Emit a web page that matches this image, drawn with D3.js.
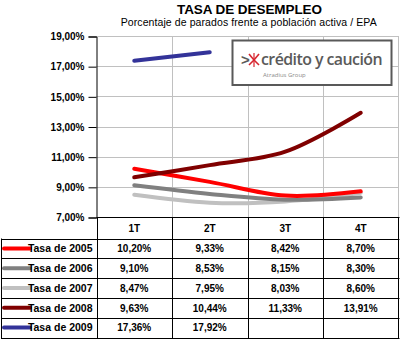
<!DOCTYPE html>
<html><head><meta charset="utf-8">
<script src="https://cdn.jsdelivr.net/npm/d3@7"></script>
<style>
html,body{margin:0;padding:0;background:#fff;}
svg{display:block;font-family:"Liberation Sans",Arial,sans-serif;}
</style></head>
<body>
<svg id="c" width="400" height="341"></svg>
<script>
const categories = ["1T","2T","3T","4T"];
const seriesNames = ["Tasa de 2005","Tasa de 2006","Tasa de 2007","Tasa de 2008","Tasa de 2009"];
const v2005 = [10.20, 9.33, 8.42, 8.70];
const v2006 = [9.10, 8.53, 8.15, 8.30];
const v2007 = [8.47, 7.95, 8.03, 8.60];
const v2008 = [9.63, 10.44, 11.33, 13.91];
const v2009 = [17.36, 17.92, null, null];
const seriesColors = ["#ff0000","#808080","#c0c0c0","#800000","#333399"];
const yTicks = [7, 9, 11, 13, 15, 17, 19];
const title = "TASA DE DESEMPLEO";
const subtitle = "Porcentaje de parados frente a población activa / EPA";

const seriesValues = [v2005, v2006, v2007, v2008, v2009];
const fmt = v => v == null ? "" : v.toFixed(2).replace(".", ",") + "%";

const svg = d3.select("#c");
const x = d3.scaleBand().domain(categories).range([96.5, 398.5]);
const y = d3.scaleLinear().domain([7, 19]).range([217, 36]);

// titles
svg.append("text").attr("x", 249.5).attr("y", 13.5).attr("text-anchor","middle")
  .attr("font-size", 13.5).attr("font-weight","bold").attr("fill","#000")
  .attr("textLength", 145).attr("lengthAdjust","spacing").text(title);
svg.append("text").attr("x", 248.7).attr("y", 25.8).attr("text-anchor","middle")
  .attr("font-size", 10.5).attr("fill","#000")
  .attr("textLength", 256).attr("lengthAdjust","spacing").text(subtitle);

// grid
const g = svg.append("g");
g.selectAll(".hg").data(yTicks.slice(1)).join("line")
  .attr("x1", 96.5).attr("x2", 398.5)
  .attr("y1", d => Math.round(y(d)) + 0.5).attr("y2", d => Math.round(y(d)) + 0.5)
  .attr("stroke","#c0c0c0").attr("stroke-width",1);
g.selectAll(".vg").data(categories.slice(1).concat(["end"])).join("line")
  .attr("x1", (d,i) => i < 3 ? Math.round(x(d)) + 0.5 : 398.5)
  .attr("x2", (d,i) => i < 3 ? Math.round(x(d)) + 0.5 : 398.5)
  .attr("y1", 36).attr("y2", 217)
  .attr("stroke","#c0c0c0").attr("stroke-width",1);

// y axis
const yAxis = d3.axisLeft(y).tickValues(yTicks).tickSize(8).tickPadding(4)
  .tickFormat(d => d.toFixed(2).replace(".", ",") + "%");
const ya = svg.append("g").attr("transform","translate(96.5,0.5)").call(yAxis);
ya.select(".domain").attr("stroke","#000");
ya.selectAll(".tick line").attr("stroke","#000");
ya.selectAll(".tick text").attr("font-size", 10).attr("font-weight","bold")
  .attr("fill","#000").attr("font-family","'Liberation Sans',Arial,sans-serif");

// logo box
const logo = svg.append("g");
logo.append("rect").attr("x", 232.5).attr("y", 40.5).attr("width", 159).attr("height", 44.5)
  .attr("fill","#fff").attr("stroke","#595959").attr("stroke-width", 2);
logo.append("text").attr("x", 241).attr("y", 65).attr("font-size", 15).attr("fill","#5a5a5a")
  .attr("font-weight","bold").text(">");
const ax = 254, ay = 60;
[[-5,-6],[5,-6],[-5,5],[5,5]].forEach(([dx,dy]) => {
  logo.append("line").attr("x1", ax).attr("y1", ay).attr("x2", ax+dx).attr("y2", ay+dy)
    .attr("stroke","#d7262f").attr("stroke-width",1.6);
});
logo.append("line").attr("x1", ax).attr("y1", ay-7).attr("x2", ax).attr("y2", ay+7)
  .attr("stroke","#d7262f").attr("stroke-width",1.2);
logo.append("text").attr("x", 261).attr("y", 64.5).attr("font-size", 17).attr("fill","#5a5a5a")
  .attr("font-family","'Open Sans','DejaVu Sans',sans-serif").attr("font-weight","600")
  .attr("letter-spacing", -0.6)
  .attr("textLength", 121).attr("lengthAdjust","spacingAndGlyphs").text("crédito y caución");
logo.append("text").attr("x", 263).attr("y", 76.5).attr("font-size", 6).attr("fill","#8a8a8a")
  .attr("font-family","'Open Sans',sans-serif").text("Atradius Group");

// lines
const line = d3.line().defined(d => d.v != null)
  .x(d => x(d.c) + x.bandwidth()/2).y(d => y(d.v))
  .curve(d3.curveCatmullRom.alpha(0.5));
const lineOrder = [2, 1, 0, 3, 4];
svg.append("g").selectAll("path").data(lineOrder).join("path")
  .attr("d", i => line(categories.map((c, j) => ({c, v: seriesValues[i][j]})).filter(d => d.v != null)))
  .attr("fill","none").attr("stroke", i => seriesColors[i]).attr("stroke-width", 4)
  .attr("stroke-linecap","round").attr("stroke-linejoin","round");

// table
const t = svg.append("g");
const rowTop = 238.5, rowH = 19.8;
const tableBottom = rowTop + rowH * seriesNames.length;
t.append("line").attr("x1",96.5).attr("x2",399.5).attr("y1",217.5).attr("y2",217.5).attr("stroke","#000");
d3.range(seriesNames.length + 1).forEach(k => {
  const yy = Math.round(rowTop + k * rowH) + 0.5;
  t.append("line").attr("x1", 1).attr("x2", 399.5).attr("y1", yy).attr("y2", yy).attr("stroke","#000");
});
t.append("line").attr("x1",1.5).attr("x2",1.5).attr("y1",rowTop).attr("y2",Math.round(tableBottom)+0.5).attr("stroke","#000");
categories.forEach(c => {
  const xx = Math.round(x(c)) + 0.5;
  t.append("line").attr("x1",xx).attr("x2",xx).attr("y1",217.5).attr("y2",Math.round(tableBottom)+0.5).attr("stroke","#000");
});
t.append("line").attr("x1",398.5).attr("x2",398.5).attr("y1",217.5).attr("y2",Math.round(tableBottom)+0.5).attr("stroke","#000");

t.selectAll(".hd").data(categories).join("text")
  .attr("x", c => x(c) + x.bandwidth()/2).attr("y", 231.5).attr("text-anchor","middle")
  .attr("font-size", 10).attr("font-weight","bold").attr("fill","#000").text(c => c);

seriesNames.forEach((name, i) => {
  const cy = rowTop + i * rowH + rowH/2;
  t.append("line").attr("x1", 4).attr("x2", 30).attr("y1", cy).attr("y2", cy)
    .attr("stroke", seriesColors[i]).attr("stroke-width", 4).attr("stroke-linecap","round");
  t.append("text").attr("x", 92.5).attr("y", cy + 3.8).attr("text-anchor","end")
    .attr("font-size", 10.5).attr("font-weight","bold").attr("fill","#000").text(name);
  categories.forEach((c, j) => {
    t.append("text").attr("x", x(c) + x.bandwidth()/2).attr("y", cy + 3.8).attr("text-anchor","middle")
      .attr("font-size", 10).attr("font-weight","bold").attr("fill","#000").text(fmt(seriesValues[i][j]));
  });
});
</script>
</body></html>
